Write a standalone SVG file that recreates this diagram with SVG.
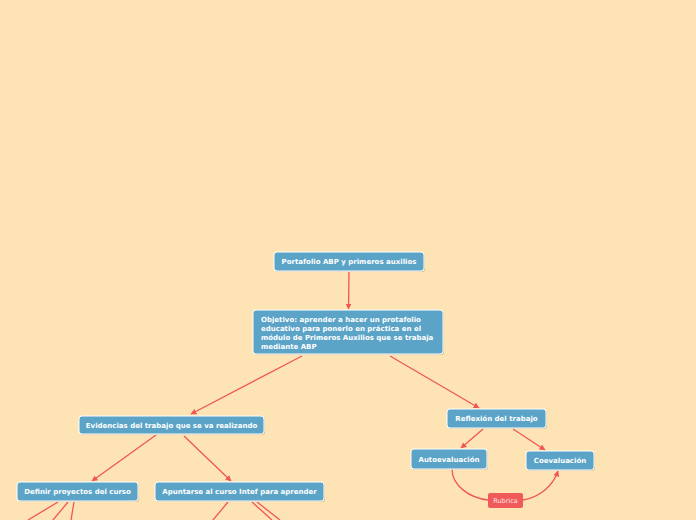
<svg xmlns="http://www.w3.org/2000/svg" width="696" height="520" viewBox="0 0 696 520">
<style>
.n rect.s{fill:#b9a98a;opacity:0.6}
.n rect.b{fill:#5ba4c8;stroke:#ffffff;stroke-width:1}
.n text{font-family:"DejaVu Sans",Verdana,sans-serif;font-weight:bold;font-size:7px;fill:#ffffff}
.c{fill:none;stroke:#f05656;stroke-width:1.3}
</style>
<defs>
<marker id="a" viewBox="0 0 10 10" refX="9" refY="5" markerWidth="6" markerHeight="6" orient="auto" markerUnits="userSpaceOnUse">
<path d="M0,0 L10,5 L0,10 z" fill="#f05656"/>
</marker>
</defs>
<rect width="696" height="520" fill="#fee4b5"/>
<g id="connectors">
<path class="c" d="M349,272 L348.5,309" marker-end="url(#a)"/>
<path class="c" d="M302,356 L191,414" marker-end="url(#a)"/>
<path class="c" d="M390,356 L479,408" marker-end="url(#a)"/>
<path class="c" d="M156,435 L92,481" marker-end="url(#a)"/>
<path class="c" d="M184,436 L231,481" marker-end="url(#a)"/>
<path class="c" d="M483,429 L461,448" marker-end="url(#a)"/>
<path class="c" d="M513,429 L545,450" marker-end="url(#a)"/>
<path class="c" d="M452,469 C452,486 470,498 488,500"/>
<path class="c" d="M523,500 C540,497 553,486 558,471" marker-end="url(#a)"/>
<path class="c" d="M58,502 L28,520"/>
<path class="c" d="M68,502 L53,520"/>
<path class="c" d="M74,502 L71,520"/>
<path class="c" d="M228,502 L213,520"/>
<path class="c" d="M252,502 L272,520"/>
<path class="c" d="M257,502 L280,520"/>
</g>
<g id="n1" class="n">
<rect class="s" x="275" y="253" width="150" height="19" rx="3"/>
<rect class="b" x="274" y="252" width="150" height="19" rx="3"/>
<text x="349" y="264" text-anchor="middle">Portafolio ABP y primeros auxilios</text>
</g>
<g id="n2" class="n">
<rect class="s" x="254" y="311" width="190" height="44" rx="3"/>
<rect class="b" x="253" y="310" width="190" height="44" rx="3"/>
<text x="261" y="322">Objetivo: aprender a hacer un protafolio</text>
<text x="261" y="331">educativo para ponerlo en práctica en el</text>
<text x="261" y="340">módulo de Primeros Auxilios que se trabaja</text>
<text x="261" y="349">mediante ABP</text>
</g>
<g id="n3" class="n">
<rect class="s" x="80" y="417" width="185" height="18" rx="3"/>
<rect class="b" x="79" y="416" width="185" height="18" rx="3"/>
<text x="171.5" y="428" text-anchor="middle">Evidencias del trabajo que se va realizando</text>
</g>
<g id="n4" class="n">
<rect class="s" x="448" y="410" width="99" height="19" rx="3"/>
<rect class="b" x="447" y="409" width="99" height="19" rx="3"/>
<text x="496.5" y="421" text-anchor="middle">Reflexión del trabajo</text>
</g>
<g id="n5" class="n">
<rect class="s" x="412" y="450" width="76" height="20" rx="3"/>
<rect class="b" x="411" y="449" width="76" height="20" rx="3"/>
<text x="449" y="462" text-anchor="middle">Autoevaluación</text>
</g>
<g id="n6" class="n">
<rect class="s" x="527" y="452" width="68" height="19" rx="3"/>
<rect class="b" x="526" y="451" width="68" height="19" rx="3"/>
<text x="560" y="463" text-anchor="middle">Coevaluación</text>
</g>
<g id="n7">
<rect x="488" y="493" width="35" height="15" rx="2" fill="#f05a5a"/>
<text x="505.5" y="503" text-anchor="middle" font-family="DejaVu Sans,Verdana,sans-serif" font-size="6.5px" fill="#ffe0e0">Rubrica</text>
</g>
<g id="n8" class="n">
<rect class="s" x="18" y="483" width="121" height="19" rx="3"/>
<rect class="b" x="17" y="482" width="121" height="19" rx="3"/>
<text x="77.5" y="494" text-anchor="middle">Definir proyectos del curso</text>
</g>
<g id="n9" class="n">
<rect class="s" x="156" y="483" width="169" height="19" rx="3"/>
<rect class="b" x="155" y="482" width="169" height="19" rx="3"/>
<text x="239.5" y="494" text-anchor="middle">Apuntarse al curso Intef para aprender</text>
</g>
</svg>
